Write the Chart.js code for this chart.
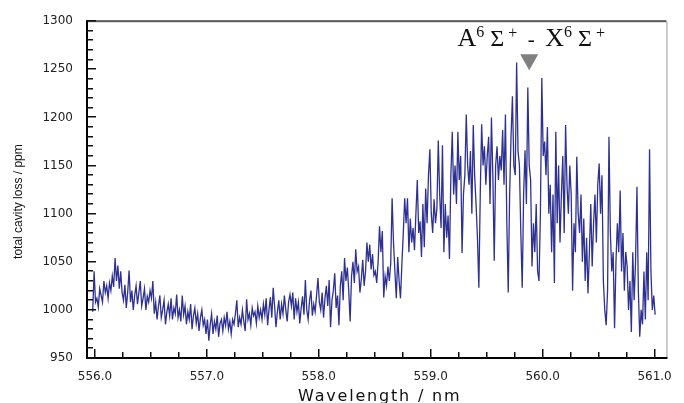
<!DOCTYPE html>
<html>
<head>
<meta charset="utf-8">
<script src="https://cdn.jsdelivr.net/npm/chart.js@4.4.1/dist/chart.umd.min.js"></script>
<style>
  html, body { margin: 0; padding: 0; background: #fff; }
</style>
</head>
<body>
<canvas id="lossChart" width="684" height="403"></canvas>
<script>
// spectrum grid (nm) and measured loss (ppm), one row per 0.25 nm
const wavelengthStart = 555.98;
const wavelengthStep = 0.0125;
const cavityLoss = [
  998, 1040, 1008, 1012, 1003, 1022, 1015, 1008, 1030, 1018, 1025, 1012, 1028, 1020, 1035, 1024, 1054, 1030, 1046, 1022, 1040, 1018,
  1010, 1026, 1002, 1018, 1041, 1008, 1020, 1000, 1015, 1025, 1006, 1018, 1030, 1004, 1012, 1022, 1000, 1014, 1008, 1020,
  1012, 1030, 996, 1008, 990, 1004, 1015, 992, 1000, 1010, 985, 998, 1006, 994, 1012, 990, 1002, 996, 1016, 992,
  1000, 988, 1015, 995, 1004, 985, 998, 990, 1006, 980, 994, 1002, 986, 996, 978, 992, 1000, 984, 990, 975,
  990, 968, 985, 996, 975, 988, 980, 994, 972, 986, 990, 978, 992, 984, 998, 980, 988, 975, 990, 985,
  996, 1010, 982, 992, 985, 1000, 988, 978, 1011, 990, 996, 984, 1002, 994, 998, 986, 1004, 992, 1000, 990,
  1006, 995, 1012, 984, 1000, 1013, 992, 1023, 1004, 982, 998, 1010, 990, 1006, 996, 1015, 1000, 988, 1008, 1016,
  1004, 1018, 990, 1012, 998, 1008, 986, 1002, 1014, 995, 1031, 1000, 990, 1010, 1020, 994, 1006, 998, 1015, 1033,
  1008, 1000, 1018, 992, 1012, 1025, 1004, 1031, 982, 1010, 1020, 1038, 1002, 1015, 984, 1025, 1040, 1010, 1054, 1030,
  1044, 1020, 988, 1035, 1050, 1028, 1063, 1040, 1045, 1018, 1032, 1052, 1025, 1040, 1070, 1050, 1068, 1042, 1058, 1036,
  1040, 1028, 1050, 1087, 1060, 1082, 1013, 1035, 1025, 1045, 1030, 1048, 1116, 1070, 1040, 1012, 1055, 1030, 1012, 1048,
  1080, 1116, 1090, 1116, 1060, 1095, 1070, 1085, 1062, 1100, 1135, 1080, 1092, 1055, 1110, 1065, 1126, 1090, 1140, 1167,
  1100, 1080, 1115, 1090, 1105, 1176, 1120, 1085, 1171, 1060, 1110, 1075, 1098, 1053, 1140, 1185, 1120, 1150, 1110, 1185,
  1135, 1160, 1059, 1120, 1140, 1203, 1150, 1130, 1165, 1100, 1192, 1140, 1110, 1075, 1023, 1120, 1193, 1150, 1170, 1130,
  1160, 1180, 1110, 1200, 1140, 1051, 1150, 1170, 1135, 1160, 1145, 1187, 1130, 1203, 1090, 1018, 1120, 1180, 1222, 1150,
  1140, 1257, 1165, 1150, 1080, 1023, 1120, 1166, 1110, 1231, 1150, 1135, 1045, 1090, 1060, 1110, 1040, 1030, 1100, 1241,
  1160, 1175, 1140, 1190, 1100, 1130, 1060, 1120, 1028, 1185, 1090, 1150, 1070, 1120, 1160, 1080, 1192, 1130, 1100, 1150,
  1120, 1020, 1090, 1060, 1159, 1100, 1080, 1120, 1050, 1095, 1030, 1075, 1017, 1060, 1110, 1045, 1090, 1120, 1070, 1130,
  1152, 1100, 1140, 1030, 1000, 984, 1020, 1180, 1080, 1040, 1060, 981, 1050, 1090, 1060, 1124, 1040, 1080, 1020, 1060,
  1045, 1000, 1030, 977, 1060, 1010, 1050, 1128, 1020, 972, 1000, 985, 1040, 990, 1060, 1010, 1167, 1040, 1000, 1015, 995
];

const xTicks = [556, 557, 558, 559, 560, 561];
const yTicks = [950, 1000, 1050, 1100, 1150, 1200, 1250, 1300];

const bandWavelength = 559.88;
const bandLoss = 1249;

const points = cavityLoss.map((v, i) => ({ x: wavelengthStart + i * wavelengthStep, y: v }));

// frame, inward ticks and the band label
const frameTicks = {
  id: "frameTicks",
  afterDraw(chart) {
    const { ctx, chartArea: a, scales: { x, y } } = chart;
    ctx.save();

    // top and right edges, lighter
    ctx.fillStyle = "#555";
    ctx.fillRect(a.left, a.top - 1, a.right - a.left, 2);
    ctx.fillStyle = "#999";
    ctx.fillRect(a.right, a.top, 1, a.bottom - a.top);

    // left and bottom axes
    ctx.fillStyle = "#000";
    ctx.fillRect(a.left - 1, a.top - 1, 2, a.bottom - a.top + 2);
    ctx.fillRect(a.left - 1, a.bottom - 1, a.right - a.left + 2, 2);

    // tick marks pointing into the plot
    ctx.fillStyle = "#111";
    for (let k = 0; k <= 20; k++) {
      const px = Math.round(x.getPixelForValue(556 + k * 0.25));
      const len = k % 4 === 0 ? 9 : 6;
      ctx.fillRect(px - 1, a.bottom - len, 1.5, len);
    }
    for (let v = 950; v <= 1300; v += 10) {
      const py = Math.round(y.getPixelForValue(v));
      const len = v % 50 === 0 ? 9 : 6;
      ctx.fillRect(a.left, py - 1, len, 1.5);
    }

    // axis titles
    ctx.fillStyle = "#111";
    ctx.font = '16px "DejaVu Sans"';
    ctx.letterSpacing = "1.8px";
    ctx.textAlign = "center";
    ctx.textBaseline = "alphabetic";
    ctx.fillText("Wavelength / nm", (a.left + a.right) / 2 + 3, 401);
    ctx.letterSpacing = "0px";

    ctx.save();
    ctx.translate(22, (a.top + a.bottom) / 2 + 12);
    ctx.rotate(-Math.PI / 2);
    ctx.font = '12px "Liberation Sans"';
    ctx.fillText("total cavity loss / ppm", 0, 0);
    ctx.restore();

    // band marker
    const tx = x.getPixelForValue(bandWavelength);
    const ty = y.getPixelForValue(bandLoss);
    ctx.fillStyle = "#808080";
    ctx.beginPath();
    ctx.moveTo(tx - 9, ty - 16);
    ctx.lineTo(tx + 9, ty - 16);
    ctx.lineTo(tx, ty);
    ctx.closePath();
    ctx.fill();

    const parts = [
      { t: "A", s: 26, up: 0 },
      { t: "6", s: 16, up: 9 },
      { t: " \u03A3", s: 24, up: 0 },
      { t: " +", s: 16, up: 8 },
      { t: "  -  ", s: 21, up: 0 },
      { t: "X", s: 26, up: 0 },
      { t: "6", s: 16, up: 9 },
      { t: " \u03A3", s: 24, up: 0 },
      { t: " +", s: 16, up: 8 }
    ];
    let total = 0;
    parts.forEach(p => {
      ctx.font = p.s + 'px "Liberation Serif"';
      p.w = ctx.measureText(p.t).width;
      total += p.w;
    });
    let cx = tx + 2 - total / 2;
    const base = ty - 24;
    ctx.fillStyle = "#111";
    ctx.textAlign = "left";
    parts.forEach(p => {
      ctx.font = p.s + 'px "Liberation Serif"';
      ctx.fillText(p.t, cx, base - p.up);
      cx += p.w;
    });

    ctx.restore();
  }
};

const ctx = document.getElementById("lossChart").getContext("2d");

new Chart(ctx, {
  type: "line",
  data: {
    datasets: [{
      data: points,
      borderColor: "#2e3192",
      borderWidth: 1.3,
      pointRadius: 0,
      tension: 0,
      fill: false
    }]
  },
  options: {
    responsive: false,
    animation: false,
    events: [],
    layout: { padding: { left: 0, right: 12, top: 18, bottom: 0 } },
    plugins: {
      legend: { display: false },
      tooltip: { enabled: false },
      title: { display: false }
    },
    scales: {
      x: {
        type: "linear",
        min: 555.929,
        max: 561.106,
        afterFit: s => { s.height = 45; },
        afterBuildTicks: s => { s.ticks = xTicks.map(v => ({ value: v })); },
        grid: { display: false, drawTicks: false },
        border: { display: false },
        ticks: {
          padding: 12,
          color: "#222",
          maxRotation: 0,
          font: { family: "DejaVu Sans", size: 12 },
          callback: v => v.toFixed(1)
        }
      },
      y: {
        min: 950,
        max: 1300,
        afterFit: s => { s.width = 87; },
        afterBuildTicks: s => { s.ticks = yTicks.map(v => ({ value: v })); },
        grid: { display: false, drawTicks: false },
        border: { display: false },
        ticks: {
          padding: 14,
          color: "#222",
          font: { family: "DejaVu Sans", size: 12 },
          callback: v => String(v)
        }
      }
    }
  },
  plugins: [frameTicks]
});
</script>
</body>
</html>
